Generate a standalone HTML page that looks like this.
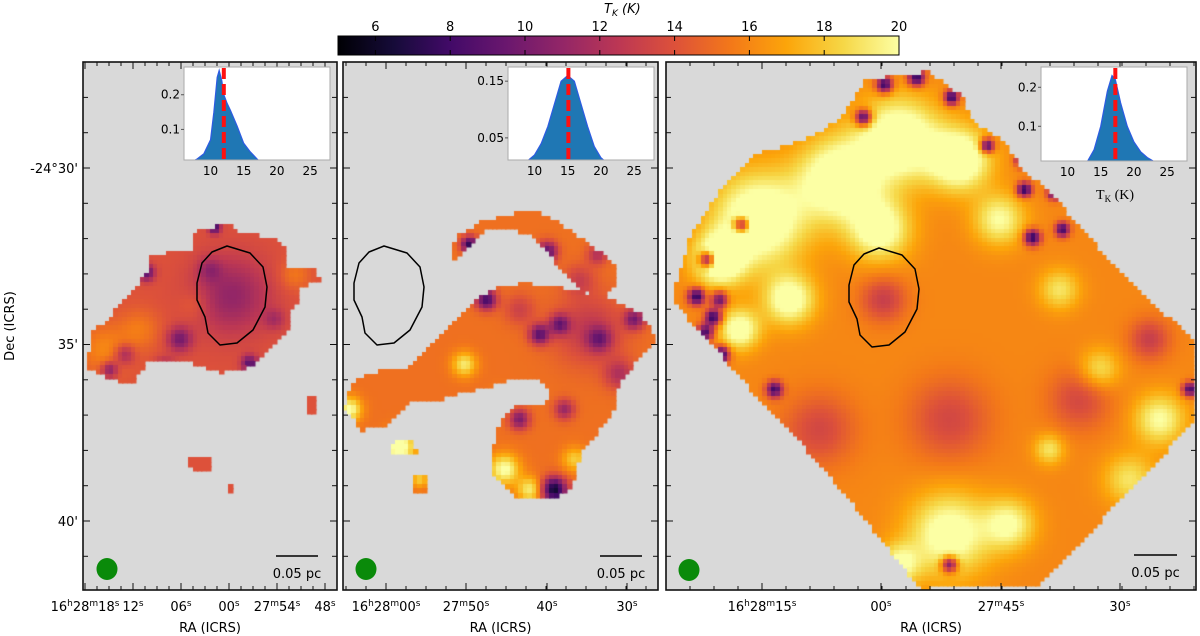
<!DOCTYPE html>
<html><head><meta charset="utf-8">
<style>
html,body{margin:0;padding:0;background:#fff;}
#root{position:relative;width:1200px;height:636px;overflow:hidden;font-family:"DejaVu Sans","Liberation Sans",sans-serif;}
canvas{position:absolute;left:0;top:0;}
svg{position:absolute;left:0;top:0;}
</style></head>
<body>
<div id="root">
<canvas id="maps" width="1200" height="636"></canvas>
<svg id="ov" width="1200" height="636"></svg>
</div>
<script>
// ---------- data ----------
const cbTicks = [6,8,10,12,14,16,18,20];
const cbRange = [5,20];
const decTickLabels = ["-24°30'","35'","40'"];
const decTickY = [168,344,521];
// histogram KDE samples (temperature, density)
const histLeftT = [6.5,7,8,9,10,10.5,11,11.3,11.7,12,12.5,13,14,15,16,17,17.8];
const histLeftD = [0,0.005,0.015,0.03,0.07,0.15,0.25,0.27,0.24,0.2,0.175,0.155,0.11,0.06,0.035,0.015,0];
const histMidT = [7.5,9,10,11,12,13,14,15,16,17,18,19,20,21,22];
const histMidD = [0,0.01,0.02,0.04,0.07,0.11,0.15,0.16,0.15,0.11,0.07,0.035,0.015,0.005,0];
const histRightT = [12,13,14,15,16,16.7,17.2,18,19,20,21,22,23,25];
const histRightD = [0,0.01,0.04,0.1,0.19,0.23,0.22,0.16,0.1,0.06,0.035,0.02,0.01,0];
const medianLeft = 12.0, medianMid = 15.1, medianRight = 17.2;
const histXTicks = [10,15,20,25];
// map blobs [x,y,radius,amplitude]
const leftBase = 14;
const leftBlobs = [[232,296,38,-3],[105,350,25,2],[140,330,20,1.5],[195,305,15,1],[295,275,15,1.5],[180,340,12,-4],[165,370,10,-4],[147,273,8,-5],[250,364,8,-5],[215,228,6,-6],[110,370,8,-4],[240,385,8,-4],[210,270,12,-2],[125,355,10,-3],[275,320,10,-2]];
const midBase = 15.2;
const midBlobs = [[487,300,10,-7],[540,335,10,-6],[560,325,10,-5],[600,340,12,-4],[635,320,10,-5],[548,252,10,-6],[470,245,8,-8],[555,490,12,-9],[520,420,10,-5],[565,410,10,-4],[620,375,15,-3],[598,255,10,-3],[350,410,12,5],[465,365,12,4],[500,400,10,3],[505,470,15,5],[530,490,12,4],[575,460,12,3],[400,447,15,6],[420,480,8,3],[590,330,35,-2.5],[520,310,15,-2],[580,280,15,-2]];
const rightBase = 16;
const rightBlobs = [[760,220,45,6],[720,260,25,6],[840,180,40,6],[900,140,40,6],[960,160,30,6],[790,300,25,5],[740,330,20,5],[880,230,30,5],[1000,220,25,4],[1060,290,20,3],[1100,370,20,3],[1160,420,25,4],[1130,480,25,3],[950,535,40,5],[1010,525,25,4],[900,565,20,4],[1050,450,15,3],
 [884,300,22,-3],[820,430,35,-2.5],[950,420,40,-2.5],[1080,400,30,-2.5],[760,460,25,-2.5],[1150,340,20,-3],
 [708,260,8,-9],[697,297,8,-9],[714,318,8,-9],[722,355,8,-9],[706,333,8,-8],[742,225,8,-8],[864,118,8,-9],[885,85,8,-9],[917,78,8,-9],[952,98,7,-9],[988,146,7,-9],[1023,160,7,-8],[1025,190,7,-9],[1033,238,8,-9],[1055,193,7,-8],[1063,230,7,-8],[1082,197,8,-9],[950,565,8,-8],[1190,390,7,-8],[775,390,8,-8],[720,300,8,-7]];
// region outlines
const leftRegion = [[87,367],[93,333],[107,320],[123,303],[133,293],[147,273],[147,257],[167,253],[193,250],[193,233],[213,227],[227,223],[237,233],[270,237],[287,247],[287,267],[313,267],[320,280],[300,287],[300,303],[287,313],[293,327],[280,340],[263,357],[250,367],[220,373],[193,363],[167,363],[147,363],[133,383],[113,380],[97,373]];
const leftBits = [[[190,458],[210,458],[212,470],[198,472],[188,466]],[[228,485],[234,485],[234,492],[228,492]],[[308,398],[314,398],[314,414],[308,414]]];
const midRegion = [[345,407],[353,383],[370,373],[407,370],[450,327],[477,300],[493,290],[523,283],[557,287],[607,297],[640,313],[657,340],[640,357],[617,387],[613,413],[597,433],[580,453],[573,487],[557,497],[517,497],[490,473],[497,430],[513,407],[540,407],[553,393],[540,380],[513,377],[500,383],[473,390],[440,400],[407,403],[383,427],[363,430],[347,413]];
const midArc = [[450,257],[457,237],[480,223],[507,215],[533,210],[553,220],[573,233],[593,247],[613,263],[617,283],[603,297],[580,290],[567,277],[547,250],[527,233],[500,227],[480,233],[467,250],[457,260]];
const midBits = [[[392,443],[412,441],[416,452],[405,456],[390,452]],[[413,478],[425,476],[427,492],[415,493]]];
const rightRegion = [[672,300],[692,233],[723,187],[760,153],[807,140],[840,120],[867,80],[927,72],[963,97],[973,123],[1003,140],[1023,170],[1050,193],[1100,250],[1150,300],[1195,344],[1195,420],[1120,500],[1040,585],[920,588],[870,525],[818,461],[763,403],[700,330]];
const contourShape = [[-5,-50],[18,-43],[31,-29],[35,-9],[33,11],[21,34],[5,47],[-12,49],[-24,37],[-27,21],[-35,4],[-35,-13],[-30,-33],[-20,-44]];

// ---------- layout ----------
const panels = [
 {name:'left',x0:83,x1:337,y0:62,y1:590},
 {name:'middle',x0:343,x1:658,y0:62,y1:590},
 {name:'right',x0:666,x1:1196,y0:62,y1:590}];
const infernoStops = ["#000004","#160b39","#420a68","#6a176e","#932667","#bc3754","#dd513a","#f37819","#fca50a","#f6d746","#fcffa4"];
function hex(c){return [parseInt(c.slice(1,3),16),parseInt(c.slice(3,5),16),parseInt(c.slice(5,7),16)];}
function inferno(v){
  let t=(v-cbRange[0])/(cbRange[1]-cbRange[0]); t=Math.max(0,Math.min(1,t));
  const s=t*10, i=Math.min(9,Math.floor(s)), f=s-i;
  const a=hex(infernoStops[i]), b=hex(infernoStops[i+1]);
  return `rgb(${Math.round(a[0]+(b[0]-a[0])*f)},${Math.round(a[1]+(b[1]-a[1])*f)},${Math.round(a[2]+(b[2]-a[2])*f)})`;
}
const cv=document.getElementById('maps'), ctx=cv.getContext('2d');
panels.forEach(p=>{ctx.fillStyle='#d9d9d9';ctx.fillRect(p.x0,p.y0,p.x1-p.x0,p.y1-p.y0);});
function pathOf(pts){const P=new Path2D();pts.forEach((q,i)=>i?P.lineTo(q[0],q[1]):P.moveTo(q[0],q[1]));P.closePath();return P;}
function drawMap(panel,regions,base,blobs){
  const paths=regions.map(pathOf), cs=4.4;
  ctx.save();ctx.beginPath();ctx.rect(panel.x0,panel.y0,panel.x1-panel.x0,panel.y1-panel.y0);ctx.clip();
  for(let y=panel.y0;y<panel.y1;y+=cs){for(let x=panel.x0;x<panel.x1;x+=cs){
    const cx=x+cs/2, cy=y+cs/2;
    if(!paths.some(P=>ctx.isPointInPath(P,cx,cy)))continue;
    let v=base;
    blobs.forEach(b=>{const d2=(cx-b[0])**2+(cy-b[1])**2;v+=b[3]*Math.exp(-d2/(b[2]*b[2]));});
    ctx.fillStyle=inferno(v);ctx.fillRect(Math.floor(x),Math.floor(y),Math.ceil(cs)+0.5,Math.ceil(cs)+0.5);
  }}
  ctx.restore();
}
drawMap(panels[0],[leftRegion,...leftBits],leftBase,leftBlobs);
drawMap(panels[1],[midRegion,midArc,...midBits],midBase,midBlobs);
drawMap(panels[2],[rightRegion],rightBase,rightBlobs);

// ---------- SVG overlay ----------
const NS='http://www.w3.org/2000/svg', svg=document.getElementById('ov');
function el(tag,attrs,parent,text){const e=document.createElementNS(NS,tag);for(const k in attrs)e.setAttribute(k,attrs[k]);if(text!==undefined)e.textContent=text;(parent||svg).appendChild(e);return e;}

// colorbar
const cbX0=338,cbX1=899,cbY0=36,cbY1=55;
const defs=el('defs',{});
const lg=el('linearGradient',{id:'cbg',x1:'0',x2:'1',y1:'0',y2:'0'},defs);
infernoStops.forEach((c,i)=>el('stop',{offset:(i/10),'stop-color':c},lg));
const cbG=el('g',{});

el('rect',{x:cbX0,y:cbY0,width:cbX1-cbX0,height:cbY1-cbY0,fill:'url(#cbg)',stroke:'#000','stroke-width':1},cbG);
const cbx=v=>cbX0+(v-cbRange[0])/(cbRange[1]-cbRange[0])*(cbX1-cbX0);
cbTicks.forEach(v=>{
  el('line',{x1:cbx(v),x2:cbx(v),y1:cbY0,y2:cbY0+5,stroke:'#000'},cbG);
  el('line',{x1:cbx(v),x2:cbx(v),y1:cbY1,y2:cbY1-5,stroke:'#000'},cbG);
  const t=el('text',{x:cbx(v),y:31,'font-size':13,'text-anchor':'middle'},cbG,String(v));
  
});
const cbt=el('text',{x:604,y:13,'font-size':13,'font-style':'italic'},cbG);

el('tspan',{},cbt,'T');el('tspan',{'font-size':9,dy:3},cbt,'K');el('tspan',{dy:-3},cbt,' (K)');

// panel frames & ticks
const raTicks = [
  {major:[85,133,181,229,277,325], minor:12, labels:[["16h28m18s",85],["12s",133],["06s",181],["00s",229],["27m54s",277],["48s",325]]},
  {major:[386,466,547,627], minor:20, labels:[["16h28m00s",386],["27m50s",466],["40s",547],["30s",627]]},
  {major:[762,881,1001,1120], minor:24, labels:[["16h28m15s",762],["00s",881],["27m45s",1001],["30s",1120]]}];
function raLabel(g,str,x,y){
  const t=el('text',{x:x,y:y,'font-size':13,'text-anchor':'middle'},g);
  
  const re=/(\d+)([hms])/g;let m;
  while((m=re.exec(str))){el('tspan',{dy:0},t,m[1]);el('tspan',{'font-size':9,dy:-5},t,m[2]);el('tspan',{'font-size':1,dy:5},t,'\u200b');}
}
panels.forEach((p,i)=>{
  const g=el('g',{});
  
  el('rect',{x:p.x0,y:p.y0,width:p.x1-p.x0,height:p.y1-p.y0,fill:'none',stroke:'#111','stroke-width':1.6},g);
  const rt=raTicks[i];
  rt.major.forEach(x=>{
    if(x<p.x0||x>p.x1)return;
    el('line',{x1:x,x2:x,y1:p.y1,y2:p.y1-7,stroke:'#111'},g);
    el('line',{x1:x,x2:x,y1:p.y0,y2:p.y0+7,stroke:'#111'},g);
  });
  for(let x=rt.major[0]-rt.minor*8;x<p.x1;x+=rt.minor){
    if(x<=p.x0+1)continue;
    el('line',{x1:x,x2:x,y1:p.y1,y2:p.y1-4,stroke:'#111'},g);
    el('line',{x1:x,x2:x,y1:p.y0,y2:p.y0+4,stroke:'#111'},g);
  }
  rt.labels.forEach(l=>raLabel(g,l[0],l[1],611));
  for(let k=-3;k<15;k++){
    const y=decTickY[0]+k*35.3; if(y<=p.y0+2||y>=p.y1-2)continue;
    const len=(k%5===0)?7:5;
    el('line',{x1:p.x0,x2:p.x0+len,y1:y,y2:y,stroke:'#111'},g);
    el('line',{x1:p.x1,x2:p.x1-len,y1:y,y2:y,stroke:'#111'},g);
  }
  const xl=el('text',{x:(p.x0+p.x1)/2,y:632,'font-size':13,'text-anchor':'middle'},g,'RA (ICRS)');
  
});
decTickLabels.forEach((s,i)=>{
  const t=el('text',{x:78,y:decTickY[i]+5,'font-size':13,'text-anchor':'end'},svg,s);
  
});
const yl=el('text',{x:14,y:326,'font-size':13,'text-anchor':'middle',transform:'rotate(-90 14 326)'},svg,'Dec (ICRS)');


// contours
const contourCenters=[[232,296],[389,296],[884,298]];
contourCenters.forEach(c=>{
  const pts=contourShape.map(q=>[c[0]+q[0],c[1]+q[1]]);
  const d='M'+pts.map(q=>q.join(',')).join(' L')+' Z';
  const pa=el('path',{d:d,fill:'none',stroke:'#000','stroke-width':1.5,'stroke-linejoin':'round'});
  
});
// beams & scale bars
[[107,569],[366,569],[689,570]].forEach(b=>{
  const c=el('ellipse',{cx:b[0],cy:b[1],rx:10.5,ry:11,fill:'#0a8a0a'});
  
});
[[276,318,556],[600,642,556],[1134,1177,555]].forEach(s=>{
  const g=el('g',{});
  
  el('line',{x1:s[0],x2:s[1],y1:s[2],y2:s[2],stroke:'#000','stroke-width':1.5},g);
  el('text',{x:(s[0]+s[1])/2,y:s[2]+22,'font-size':13,'text-anchor':'middle'},g,'0.05 pc');
});

// insets
const insets=[
 {name:'left',x0:184,x1:330,y0:67,y1:160,xr:[6,28],yr:[0.0118,0.28],yt:[0.1,0.2],ytl:['0.1','0.2'],T:histLeftT,D:histLeftD,med:medianLeft},
 {name:'middle',x0:508,x1:654,y0:67,y1:160,xr:[6,28],yr:[0.011,0.175],yt:[0.05,0.15],ytl:['0.05','0.15'],T:histMidT,D:histMidD,med:medianMid},
 {name:'right',x0:1041,x1:1187,y0:67,y1:161,xr:[6,28],yr:[0.011,0.252],yt:[0.1,0.2],ytl:['0.1','0.2'],T:histRightT,D:histRightD,med:medianRight,xlabel:true}];
insets.forEach((s,k)=>{
  const g=el('g',{});
  
  const xs=v=>s.x0+(v-s.xr[0])/(s.xr[1]-s.xr[0])*(s.x1-s.x0);
  const ys=v=>s.y1-(v-s.yr[0])/(s.yr[1]-s.yr[0])*(s.y1-s.y0);
  el('rect',{x:s.x0,y:s.y0,width:s.x1-s.x0,height:s.y1-s.y0,fill:'#fff'},g);
  const cid='clip'+k;
  const cp=el('clipPath',{id:cid},defs);el('rect',{x:s.x0,y:s.y0,width:s.x1-s.x0,height:s.y1-s.y0},cp);
  let d='M'+xs(s.T[0])+','+ys(0);
  s.T.forEach((t,i)=>{d+=' L'+xs(t)+','+ys(s.D[i]);});
  d+=' L'+xs(s.T[s.T.length-1])+','+ys(0)+' Z';
  const area=el('path',{d:d,fill:'#1f77b4',stroke:'#2d5be3','stroke-width':1.2,'clip-path':`url(#${cid})`},g);
  
  const ml=el('line',{x1:xs(s.med),x2:xs(s.med),y1:s.y0+1,y2:s.y1,stroke:'#ff1010','stroke-width':4,'stroke-dasharray':'11,5'},g);
  
  el('rect',{x:s.x0,y:s.y0,width:s.x1-s.x0,height:s.y1-s.y0,fill:'none',stroke:'#aaa','stroke-width':1},g);
  histXTicks.forEach(v=>{
    el('text',{x:xs(v),y:s.y1+15,'font-size':12,'text-anchor':'middle'},g,String(v));
  });
  s.yt.forEach((v,i)=>{
    el('line',{x1:s.x0,x2:s.x0-3,y1:ys(v),y2:ys(v),stroke:'#555'},g);
    el('text',{x:s.x0-4,y:ys(v)+4,'font-size':12,'text-anchor':'end'},g,s.ytl[i]);
  });
  if(s.xlabel){
    const t=el('text',{x:1115,y:199,'font-size':14,'text-anchor':'middle','font-family':'Liberation Serif, serif'},g);
    el('tspan',{},t,'T');el('tspan',{'font-size':9,dy:3},t,'K');el('tspan',{dy:-3},t,' (K)');
  }
});
</script>
</body></html>
